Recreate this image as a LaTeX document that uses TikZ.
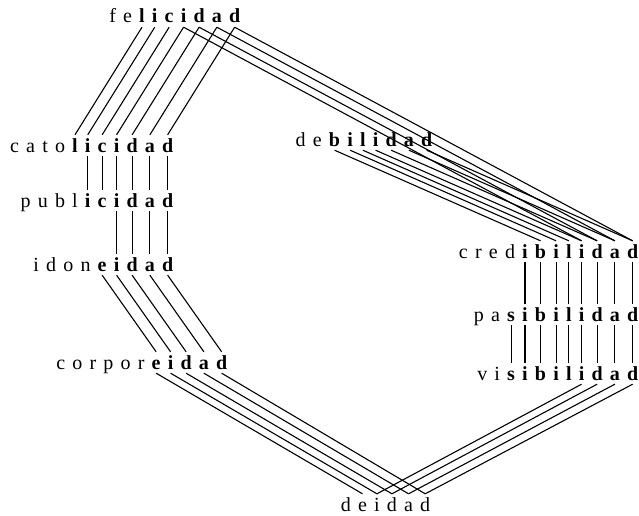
\documentclass[tikz,border=0pt]{standalone}
\usepackage{fontspec}
\setmainfont{Liberation Serif}

\newlength\lsp \setlength\lsp{7.2pt}
\newlength\wordwd
\newlength\letterwd
\newlength\letterx
\newcommand\wordfont{\fontsize{20pt}{24pt}\selectfont}
\newcommand\measure[1]{\settowidth\letterwd{\pgfinterruptpicture\wordfont\lfont#1\endpgfinterruptpicture}}

% #1 name, #2 right end, #3 baseline, #4 first bold letter, #5 letters
\newcommand\spword[5]{%
	\global\wordwd=-\lsp
	\foreach \ltr [count=\i] in {#5}
	{
		\ifnum\i<#4\relax \def\lfont{}\else \def\lfont{\bfseries}\fi
		\measure{\ltr}%
		\global\advance\wordwd by \dimexpr\letterwd+\lsp\relax
	}
	\global\letterx=\dimexpr#2pt-\wordwd\relax
	\foreach \ltr [count=\i] in {#5}
	{
		\ifnum\i<#4\relax \def\lfont{}\else \def\lfont{\bfseries}\fi
		\node[letter] (#1\i) at (\letterx,-#3pt) {\lfont\ltr};
		\measure{\ltr}%
		\global\advance\letterx by \dimexpr\letterwd+\lsp\relax
	}
}

% #1 upper word, #2 its first letter, #3 lower word, #4 its first letter, #5 number of lines
\newcommand\links[5]{%
	\foreach \k in {1,...,#5}
	{
		\pgfmathtruncatemacro\ua{#2+\k-1}
		\pgfmathtruncatemacro\lb{#4+\k-1}
		\draw[link] (#1\ua.south) -- (#3\lb.north);
	}
}

\begin{document}
\begin{tikzpicture}
			\tikzstyle{letter}=[inner sep=0pt, anchor=base west, text height=17pt, text depth=4pt, font=\wordfont]
			\tikzstyle{link}=[line width=1.1pt]
			\useasboundingbox (0,0) rectangle (639pt,-516pt);
			
			\spword{feli}{240}{23}{3}{f,e,l,i,c,i,d,a,d}
			\spword{cato}{173}{152}{5}{c,a,t,o,l,i,c,i,d,a,d}
			\spword{publ}{173}{207}{5}{p,u,b,l,i,c,i,d,a,d}
			\spword{idon}{173}{271}{5}{i,d,o,n,e,i,d,a,d}
			\spword{corp}{227}{369}{7}{c,o,r,p,o,r,e,i,d,a,d}
			\spword{deid}{430}{511}{7}{d,e,i,d,a,d}
			\spword{debi}{432}{146}{3}{d,e,b,i,l,i,d,a,d}
			\spword{cred}{638}{258}{5}{c,r,e,d,i,b,i,l,i,d,a,d}
			\spword{pasi}{638}{321}{3}{p,a,s,i,b,i,l,i,d,a,d}
			\spword{visi}{638}{380}{3}{v,i,s,i,b,i,l,i,d,a,d}
			
			\links{feli}{3}{cato}{5}{7}
			\links{feli}{6}{cred}{9}{4}
			\links{cato}{6}{publ}{5}{6}
			\links{publ}{7}{idon}{6}{4}
			\links{idon}{5}{corp}{7}{5}
			\links{corp}{7}{deid}{2}{5}
			\links{debi}{3}{cred}{6}{7}
			\links{cred}{5}{pasi}{4}{8}
			\links{pasi}{3}{visi}{3}{9}
			\links{visi}{8}{deid}{3}{4}
\end{tikzpicture}
\end{document}
